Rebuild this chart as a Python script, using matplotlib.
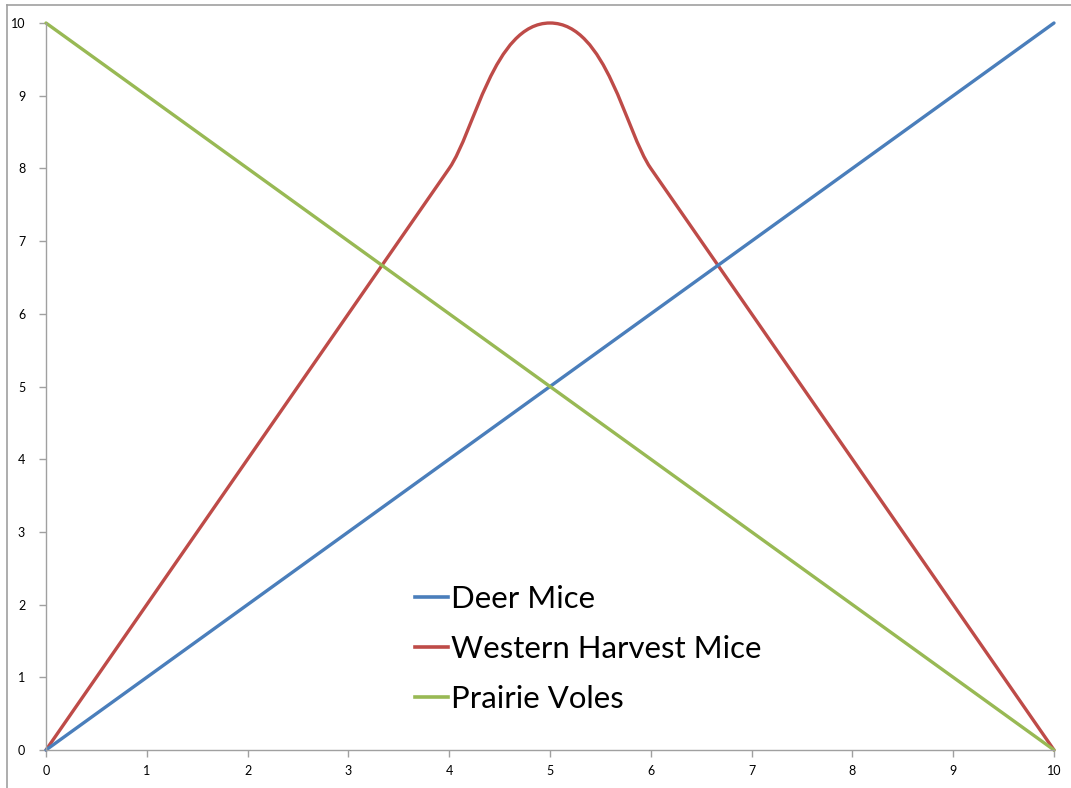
import matplotlib
matplotlib.use("Agg")
import matplotlib.pyplot as plt
import numpy as np
from matplotlib.path import Path
from matplotlib.patches import PathPatch
from matplotlib.lines import Line2D

# Data
deer_x = [0, 10]
deer_y = [0, 10]
harvest_x = [0, 4, 5, 6, 10]
harvest_y = [0, 8, 10, 8, 0]
vole_x = [0, 10]
vole_y = [10, 0]
labels = ["Deer Mice", "Western Harvest Mice", "Prairie Voles"]
xticks = list(range(0, 11))
yticks = list(range(0, 11))

c_blue = "#4A7EBB"
c_red = "#BE4B48"
c_green = "#98B954"
lw = 2.4

fig = plt.figure(figsize=(10.71, 7.88), dpi=100)
ax = fig.add_axes([46/1071, 38/788, 1008/1071, 727/788])

ax.plot(deer_x, deer_y, color=c_blue, lw=lw, solid_capstyle="round", clip_on=False)
ax.plot(vole_x, vole_y, color=c_green, lw=lw, solid_capstyle="round", clip_on=False)

# Excel-style smoothed line (Bezier through points)
P = np.column_stack([harvest_x, harvest_y]).astype(float)
n = len(P)
k = 0.25
def tangent_dir(i):
    a = P[i - 1] if i > 0 else P[i]
    b = P[i + 1] if i + 1 < n else P[i]
    d = b - a
    return d / np.hypot(*d)
verts = [tuple(P[0])]
codes = [Path.MOVETO]
for i in range(n - 1):
    p1 = P[i]
    p2 = P[i + 1]
    seg = np.hypot(*(p2 - p1))
    c1 = p1 + tangent_dir(i) * seg * k
    c2 = p2 - tangent_dir(i + 1) * seg * k
    verts += [tuple(c1), tuple(c2), tuple(p2)]
    codes += [Path.CURVE4] * 3
patch = PathPatch(Path(verts, codes), facecolor="none", edgecolor=c_red, lw=lw,
                  capstyle="round", joinstyle="round", clip_on=False)
ax.add_patch(patch)

ax.set_xlim(0, 10)
ax.set_ylim(0, 10)
ax.set_xticks(xticks)
ax.set_yticks(yticks)
ax.set_xticklabels([str(t) for t in xticks])
ax.set_yticklabels([str(t) for t in yticks])

for s in ["top", "right"]:
    ax.spines[s].set_visible(False)
for s in ["left", "bottom"]:
    ax.spines[s].set_color("#A0A0A0")
    ax.spines[s].set_linewidth(1.0)
ax.tick_params(axis="both", direction="out", length=5, width=1, color="#A0A0A0",
               labelsize=9, labelcolor="#000000")
ax.tick_params(axis="y", pad=10)
ax.tick_params(axis="x", pad=6)
for lab in ax.get_xticklabels() + ax.get_yticklabels():
    lab.set_family("Lato")

handles = [Line2D([], [], color=c_blue, lw=2.6),
           Line2D([], [], color=c_red, lw=2.6),
           Line2D([], [], color=c_green, lw=2.6)]
leg = ax.legend(handles, labels, loc="center left", bbox_to_anchor=(0.366, 0.139),
                frameon=False, borderpad=0, borderaxespad=0, handlelength=1.07,
                handletextpad=0.1, labelspacing=0.72,
                prop={"family": "Lato", "size": 22.4})

# figure border (top and left)
fig.add_artist(Line2D([7/1071, 1.0], [1 - 5/788, 1 - 5/788], transform=fig.transFigure,
                      color="#A0A0A0", lw=1.2))
fig.add_artist(Line2D([7/1071, 7/1071], [0, 1 - 5/788], transform=fig.transFigure,
                      color="#A0A0A0", lw=1.2))

fig.savefig("out.png", dpi=100)
